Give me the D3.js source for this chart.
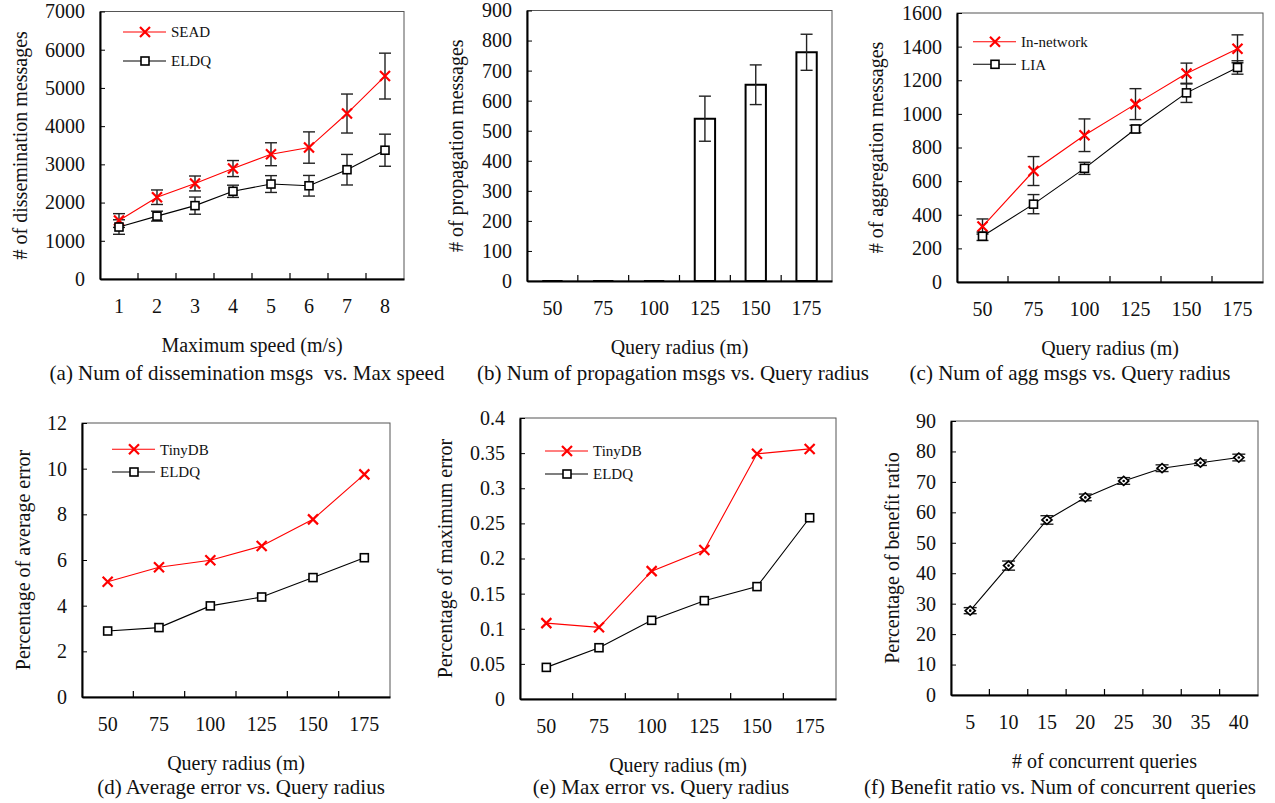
<!DOCTYPE html>
<html>
<head>
<meta charset="utf-8">
<script src="https://cdn.jsdelivr.net/npm/d3@7"></script>
<style>
  body { margin: 0; background: #fff; }
  svg text { font-family: "Liberation Serif", "Times New Roman", serif; fill: #111; }
</style>
</head>
<body>
<svg id="fig" width="1275" height="803"></svg>
<script>
// values
const speedCats = [1, 2, 3, 4, 5, 6, 7, 8];
const seadMsgs = [1530, 2140, 2500, 2890, 3265, 3440, 4330, 5310];
const seadErr = [180, 190, 195, 210, 300, 410, 510, 600];
const eldqMsgs = [1360, 1645, 1920, 2295, 2485, 2440, 2860, 3370];
const eldqErr = [190, 130, 225, 160, 220, 270, 400, 420];

const radiusCats = [50, 75, 100, 125, 150, 175];
const propMsgs = [0, 0, 0, 540, 653, 761];
const propErr = [0, 0, 0, 75, 66, 60];

const innetMsgs = [330, 660, 873, 1058, 1240, 1387];
const innetErr = [45, 86, 97, 92, 62, 83];
const liaMsgs = [272, 463, 676, 910, 1125, 1276];
const liaErr = [25, 57, 36, 22, 57, 40];

const tinyAvgErr = [5.05, 5.68, 5.99, 6.61, 7.78, 9.75];
const eldqAvgErr = [2.89, 3.04, 3.99, 4.38, 5.23, 6.10];

const tinyMaxErr = [0.108, 0.102, 0.182, 0.212, 0.349, 0.356];
const eldqMaxErr = [0.045, 0.073, 0.112, 0.140, 0.160, 0.258];

const queryCats = [5, 10, 15, 20, 25, 30, 35, 40];
const benefit = [27.7, 42.5, 57.5, 64.9, 70.3, 74.5, 76.3, 78.0];
const benefitErr = [1.0, 1.5, 1.4, 1.1, 1.1, 1.1, 0.9, 1.1];

const svg = d3.select("#fig");

/*
 * Draws the frame, axes and titles of one panel and returns its scales
 */
function panel(p) {
  const g = svg.append("g");
  const x = d3.scaleBand().domain(p.cats).range([p.left, p.right]);
  const y = d3.scaleLinear().domain(p.yDomain).range([p.bottom, p.top]);

  // thin frame on top/right
  g.append("rect")
      .attr("x", p.left).attr("y", p.top)
      .attr("width", p.right - p.left).attr("height", p.bottom - p.top)
      .attr("fill", "none").attr("stroke", "#555").attr("stroke-width", 1);

  const yTicks = d3.range(p.yDomain[0], p.yDomain[1] + p.yStep / 2, p.yStep);
  g.append("g")
      .attr("transform", `translate(${p.left},0)`)
      .call(d3.axisLeft(y).tickValues(yTicks).tickSizeInner(-5).tickSizeOuter(0).tickPadding(15)
          .tickFormat(d => +d.toFixed(2)))
      .call(a => a.select(".domain").attr("stroke-width", 2))
      .call(a => a.selectAll("text").style("font-size", "20px").attr("fill", "#111"));

  g.append("g")
      .attr("transform", `translate(0,${p.bottom})`)
      .call(d3.axisBottom(x).tickSize(0).tickPadding(20))
      .call(a => a.select(".domain").attr("stroke-width", 2))
      .call(a => a.selectAll("text").style("font-size", "20px").attr("fill", "#111"));

  // tick marks between categories, pointing inwards
  g.append("g").selectAll("line")
      .data(p.cats.slice(1))
      .join("line")
      .attr("x1", d => x(d)).attr("x2", d => x(d))
      .attr("y1", p.bottom).attr("y2", p.bottom - 6)
      .attr("stroke", "#000").attr("stroke-width", 1.2);

  g.append("text")
      .attr("x", (p.left + p.right) / 2)
      .attr("y", p.bottom + 66)
      .attr("dy", "0.35em")
      .attr("text-anchor", "middle")
      .style("font-size", "20px")
      .text(p.xTitle);

  g.append("text")
      .attr("transform", `translate(${p.left - p.yTitleOff},${(p.top + p.bottom) / 2}) rotate(-90)`)
      .attr("dy", "0.35em")
      .attr("text-anchor", "middle")
      .style("font-size", "20px")
      .text(p.yTitle);

  g.append("text")
      .attr("x", p.capX)
      .attr("y", p.capY)
      .attr("dy", "0.35em")
      .attr("text-anchor", "middle")
      .style("font-size", "21px")
      .style("white-space", "pre")
      .text(p.caption);

  return {g, x, y};
}

function errorBars(g, x, y, cats, vals, errs, cap) {
  const c = d => x(d) + x.bandwidth() / 2;
  const eb = g.append("g").attr("stroke", "#222").attr("stroke-width", 1.4);
  cats.forEach((d, i) => {
    if (!errs[i]) return;
    const hi = y(vals[i] + errs[i]), lo = y(vals[i] - errs[i]);
    eb.append("line").attr("x1", c(d)).attr("x2", c(d)).attr("y1", hi).attr("y2", lo);
    eb.append("line").attr("x1", c(d) - cap).attr("x2", c(d) + cap).attr("y1", hi).attr("y2", hi);
    eb.append("line").attr("x1", c(d) - cap).attr("x2", c(d) + cap).attr("y1", lo).attr("y2", lo);
  });
}

function marker(sel, kind) {
  if (kind === "x") {
    sel.append("path")
        .attr("d", "M-5,-5L5,5M-5,5L5,-5")
        .attr("stroke", "#ff0000").attr("stroke-width", 2.2).attr("fill", "none");
  } else if (kind === "sq") {
    sel.append("rect")
        .attr("x", -4).attr("y", -4).attr("width", 8).attr("height", 8)
        .attr("fill", "#fff").attr("stroke", "#000").attr("stroke-width", 1.6);
  } else {
    sel.append("path")
        .attr("d", "M0,-4.5L5,0L0,4.5L-5,0Z")
        .attr("fill", "#fff").attr("stroke", "#000").attr("stroke-width", 1.7);
    sel.append("circle").attr("r", 1.3).attr("fill", "#000");
  }
}

function series(g, x, y, cats, vals, color, kind) {
  const pts = cats.map((d, i) => [x(d) + x.bandwidth() / 2, y(vals[i])]);
  g.append("path")
      .datum(pts)
      .attr("fill", "none")
      .attr("stroke", color)
      .attr("stroke-width", 1.1)
      .attr("d", d3.line());
  g.append("g").selectAll("g")
      .data(pts)
      .join("g")
      .attr("transform", d => `translate(${d[0]},${d[1]})`)
      .each(function () { marker(d3.select(this), kind); });
}

function legend(g, items, x0, y0, gap) {
  items.forEach((it, i) => {
    const yy = y0 + i * gap;
    g.append("line")
        .attr("x1", x0).attr("x2", x0 + 43).attr("y1", yy).attr("y2", yy)
        .attr("stroke", it.color).attr("stroke-width", 1.1);
    const m = g.append("g").attr("transform", `translate(${x0 + 22},${yy})`);
    marker(m, it.kind);
    g.append("text")
        .attr("x", x0 + 48).attr("y", yy).attr("dy", "0.35em")
        .style("font-size", "15px")
        .text(it.name);
  });
}

// (a)
{
  const {g, x, y} = panel({
    cats: speedCats, yDomain: [0, 7000], yStep: 1000,
    left: 100, right: 404, top: 11.5, bottom: 279,
    xTitle: "Maximum speed (m/s)", yTitle: "# of dissemination messages", yTitleOff: 80,
    caption: "(a) Num of dissemination msgs  vs. Max speed", capX: 247, capY: 373
  });
  errorBars(g, x, y, speedCats, seadMsgs, seadErr, 6);
  errorBars(g, x, y, speedCats, eldqMsgs, eldqErr, 6);
  series(g, x, y, speedCats, seadMsgs, "#ff0000", "x");
  series(g, x, y, speedCats, eldqMsgs, "#000", "sq");
  legend(g, [{name: "SEAD", color: "#ff0000", kind: "x"}, {name: "ELDQ", color: "#000", kind: "sq"}], 123, 32, 29);
}

// (b)
{
  const {g, x, y} = panel({
    cats: radiusCats, yDomain: [0, 900], yStep: 100,
    left: 527, right: 832, top: 10.5, bottom: 281,
    xTitle: "Query radius (m)", yTitle: "# of propagation messages", yTitleOff: 71,
    caption: "(b) Num of propagation msgs vs. Query radius", capX: 673, capY: 373
  });
  const bw = x.bandwidth() * 0.4;
  g.append("g").selectAll("path")
      .data(radiusCats.map((d, i) => [d, propMsgs[i]]))
      .join("path")
      .attr("d", d => {
        const x0 = x(d[0]) + (x.bandwidth() - bw) / 2;
        return `M${x0},${y(0)}V${y(d[1])}H${x0 + bw}V${y(0)}Z`;
      })
      .attr("fill", "#fff")
      .attr("stroke", "#000")
      .attr("stroke-width", 2);
  errorBars(g, x, y, radiusCats, propMsgs, propErr, 6);
}

// (c)
{
  const {g, x, y} = panel({
    cats: radiusCats, yDomain: [0, 1600], yStep: 200,
    left: 957, right: 1263, top: 13, bottom: 282,
    xTitle: "Query radius (m)", yTitle: "# of aggregation messages", yTitleOff: 81,
    caption: "(c) Num of agg msgs vs. Query radius", capX: 1070, capY: 373
  });
  errorBars(g, x, y, radiusCats, innetMsgs, innetErr, 6);
  errorBars(g, x, y, radiusCats, liaMsgs, liaErr, 6);
  series(g, x, y, radiusCats, innetMsgs, "#ff0000", "x");
  series(g, x, y, radiusCats, liaMsgs, "#000", "sq");
  legend(g, [{name: "In-network", color: "#ff0000", kind: "x"}, {name: "LIA", color: "#000", kind: "sq"}], 973, 41.7, 22.6);
}

// (d)
{
  const {g, x, y} = panel({
    cats: radiusCats, yDomain: [0, 12], yStep: 2,
    left: 82, right: 390, top: 423, bottom: 697,
    xTitle: "Query radius (m)", yTitle: "Percentage of average error", yTitleOff: 59,
    caption: "(d) Average error vs. Query radius", capX: 241, capY: 787
  });
  series(g, x, y, radiusCats, tinyAvgErr, "#ff0000", "x");
  series(g, x, y, radiusCats, eldqAvgErr, "#000", "sq");
  legend(g, [{name: "TinyDB", color: "#ff0000", kind: "x"}, {name: "ELDQ", color: "#000", kind: "sq"}], 112, 449.3, 22.7);
}

// (e)
{
  const {g, x, y} = panel({
    cats: radiusCats, yDomain: [0, 0.4], yStep: 0.05,
    left: 520, right: 836, top: 418, bottom: 699,
    xTitle: "Query radius (m)", yTitle: "Percentage of maximum error", yTitleOff: 75,
    caption: "(e) Max error vs. Query radius", capX: 661, capY: 787
  });
  series(g, x, y, radiusCats, tinyMaxErr, "#ff0000", "x");
  series(g, x, y, radiusCats, eldqMaxErr, "#000", "sq");
  legend(g, [{name: "TinyDB", color: "#ff0000", kind: "x"}, {name: "ELDQ", color: "#000", kind: "sq"}], 545, 451, 23);
}

// (f)
{
  const {g, x, y} = panel({
    cats: queryCats, yDomain: [0, 90], yStep: 10,
    left: 951, right: 1258, top: 421, bottom: 695,
    xTitle: "# of concurrent queries", yTitle: "Percentage of benefit ratio", yTitleOff: 59,
    caption: "(f) Benefit ratio vs. Num of concurrent queries", capX: 1060, capY: 787
  });
  errorBars(g, x, y, queryCats, benefit, benefitErr, 6.5);
  series(g, x, y, queryCats, benefit, "#000", "dia");
}
</script>
</body>
</html>
